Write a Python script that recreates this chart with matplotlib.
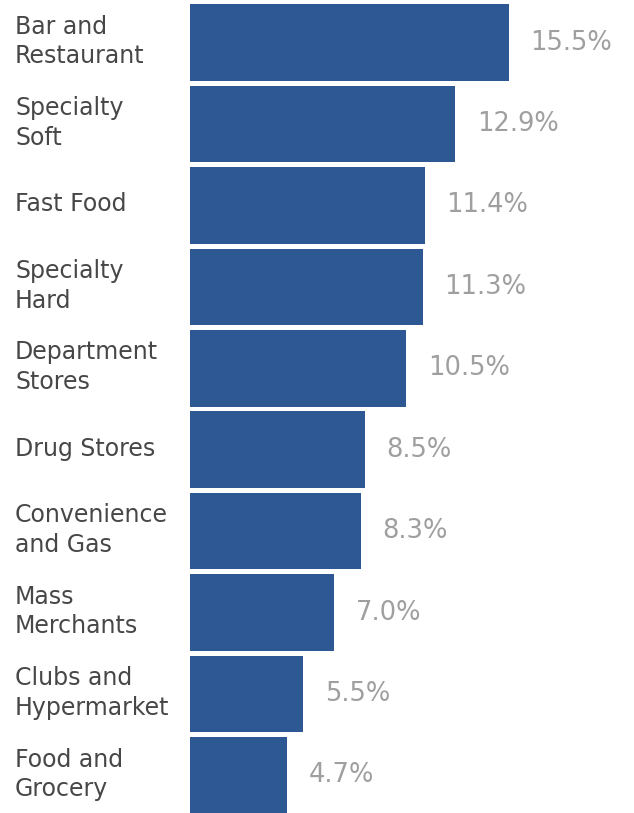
import matplotlib
matplotlib.use('Agg')
import matplotlib.pyplot as plt

# category names and share values
categories = ['Bar and\nRestaurant', 'Specialty\nSoft', 'Fast Food', 'Specialty\nHard',
              'Department\nStores', 'Drug Stores', 'Convenience\nand Gas', 'Mass\nMerchants',
              'Clubs and\nHypermarket', 'Food and\nGrocery']
values = [15.5, 12.9, 11.4, 11.3, 10.5, 8.5, 8.3, 7.0, 5.5, 4.7]

fig = plt.figure(figsize=(6.34, 8.13), dpi=100)
# axes starts where the bars start, full height
ax = fig.add_axes([190 / 634, 0, 1 - 190 / 634, 1])

y = list(range(len(categories)))
ax.barh(y, values, height=0.94, color='#2e5894', edgecolor='none')

ax.set_xlim(0, 444 / 20.58)
ax.set_ylim(9.461, -0.522)

# value labels to the right of the bars
for i, v in enumerate(values):
    ax.text(v + 1.05, i, f'{v:.1f}%', va='center', ha='left',
            fontsize=18.5, color='#9f9f9f')

# category labels on the left
for i, c in enumerate(categories):
    ax.annotate(c, xy=(0, i), xycoords='data', xytext=(-175, 1),
                textcoords='offset pixels', va='center', ha='left',
                fontsize=17, color='#474747', linespacing=1.3,
                annotation_clip=False)

ax.axis('off')

fig.savefig('out.png', dpi=100)
